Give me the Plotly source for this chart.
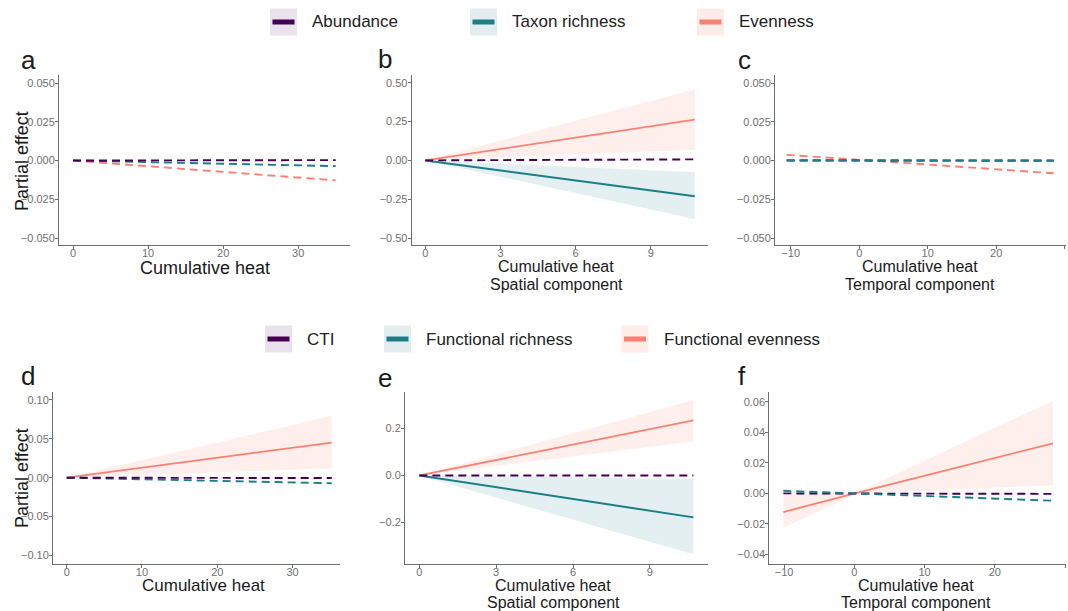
import plotly.graph_objects as go

# ---------------- data ----------------
# Top row: Abundance / Taxon richness / Evenness
a_x = [0, 35]
a_abund = [0.0, 0.0003]
a_taxon = [0.0, -0.0036]
a_even = [0.0, -0.0128]

b_x = [0, 10.75]
b_abund = [0.0, 0.0065]
b_taxon = [0.0, -0.231]
b_taxon_lo = [0.0, -0.377]
b_taxon_hi = [0.0, -0.076]
b_even = [0.0, 0.263]
b_even_lo = [0.0, 0.069]
b_even_hi = [0.0, 0.457]

c_x = [-10.6, 28.4]
c_abund = [0.0, 0.0]
c_taxon = [0.0002, -0.0002]
c_even = [0.0037, -0.0082]

# Bottom row: CTI / Functional richness / Functional evenness
d_x = [0, 35.2]
d_cti = [0.0, -0.0005]
d_fric = [0.0, -0.0072]
d_feve = [0.0, 0.045]
d_feve_lo = [0.0, 0.012]
d_feve_hi = [0.0, 0.0795]

e_x = [0, 10.7]
e_cti = [0.0, 0.0]
e_fric = [0.0, -0.178]
e_fric_lo = [0.0, -0.335]
e_fric_hi = [0.0, -0.015]
e_feve = [0.0, 0.234]
e_feve_lo = [0.0, 0.144]
e_feve_hi = [0.0, 0.32]

f_x = [-10.1, 0.5, 28.3]
f_cti = [0.0, 0.0, -0.0003]
f_fric = [0.0017, 0.0, -0.0048]
f_feve = [-0.0122, 0.0005, 0.0328]
f_feve_lo = [-0.0225, 0.0, 0.0054]
f_feve_hi = [-0.001, 0.001, 0.0607]

legend1 = ["Abundance", "Taxon richness", "Evenness"]
legend2 = ["CTI", "Functional richness", "Functional evenness"]
panel_letters = ["a", "b", "c", "d", "e", "f"]

# ---------------- styles ----------------
PURPLE = "#440154"
TEAL = "#1A7F86"
SALMON = "#FA8072"
PURPLE_BG = "#EAE2EC"
TEAL_FILL = "rgba(26,127,134,0.12)"
TEAL_BG = "#E3EDEF"
SALMON_FILL = "rgba(250,128,114,0.13)"
SALMON_BG = "#FEECE9"
DASH = "8px,5px"
FONT = "Liberation Sans, Arial, sans-serif"
W, H = 1068, 611


def px(x):
    return x / W


def py(y):
    return 1 - y / H


fig = go.Figure()


def line(x, y, color, ax, dashed, width=None):
    fig.add_trace(go.Scatter(
        x=x, y=y, mode="lines", xaxis="x" + ax, yaxis="y" + ax,
        line=dict(color=color, width=width or (1.9 if dashed else 1.8),
                  dash=DASH if dashed else "solid"),
        showlegend=False, hoverinfo="skip"))


def ribbon(x, lo, hi, fill, ax):
    fig.add_trace(go.Scatter(x=x, y=lo, mode="lines", xaxis="x" + ax, yaxis="y" + ax,
                             line=dict(width=0, color=fill), showlegend=False, hoverinfo="skip"))
    fig.add_trace(go.Scatter(x=x, y=hi, mode="lines", xaxis="x" + ax, yaxis="y" + ax,
                             line=dict(width=0, color=fill), fill="tonexty", fillcolor=fill,
                             showlegend=False, hoverinfo="skip"))


# panel a
line(a_x, a_even, SALMON, "", True)
line(a_x, a_taxon, TEAL, "", True)
line(a_x, a_abund, PURPLE, "", True)
# panel b
ribbon(b_x, b_even_lo, b_even_hi, SALMON_FILL, "2")
ribbon(b_x, b_taxon_lo, b_taxon_hi, TEAL_FILL, "2")
line(b_x, b_even, SALMON, "2", False)
line(b_x, b_taxon, TEAL, "2", False, 2)
line(b_x, b_abund, PURPLE, "2", True)
# panel c
line(c_x, c_even, SALMON, "3", True)
line(c_x, c_abund, PURPLE, "3", True)
line(c_x, c_taxon, TEAL, "3", True)
# panel d
ribbon(d_x, d_feve_lo, d_feve_hi, SALMON_FILL, "4")
line(d_x, d_feve, SALMON, "4", False)
line(d_x, d_fric, TEAL, "4", True)
line(d_x, d_cti, PURPLE, "4", True)
# panel e
ribbon(e_x, e_feve_lo, e_feve_hi, SALMON_FILL, "5")
ribbon(e_x, e_fric_lo, e_fric_hi, TEAL_FILL, "5")
line(e_x, e_feve, SALMON, "5", False)
line(e_x, e_fric, TEAL, "5", False, 2)
line(e_x, e_cti, PURPLE, "5", True)
# panel f
ribbon(f_x, f_feve_lo, f_feve_hi, SALMON_FILL, "6")
line(f_x, f_feve, SALMON, "6", False)
line(f_x, f_cti, PURPLE, "6", True)
line(f_x, f_fric, TEAL, "6", True)

# ---------------- axes ----------------
AXCOL = "#6e6e6e"
TICKFONT = dict(family=FONT, size=11, color="#707070")


def xax(dom, rng, tickvals, anchor):
    return dict(domain=[px(dom[0]), px(dom[1])], range=rng, tickvals=tickvals,
                showline=True, linecolor=AXCOL, linewidth=1, ticks="outside",
                ticklen=3, tickcolor=AXCOL, showgrid=False, zeroline=False,
                tickfont=TICKFONT, anchor=anchor, fixedrange=True,
                ticklabelstandoff=-5)


def yax(dom, rng, tickvals, fmt, anchor):
    return dict(domain=[py(dom[1]), py(dom[0])], range=rng, tickvals=tickvals,
                tickformat=fmt, showline=True, linecolor=AXCOL, linewidth=1,
                ticks="outside", ticklen=3, tickcolor=AXCOL, showgrid=False,
                zeroline=False, tickfont=TICKFONT, anchor=anchor, fixedrange=True,
                ticklabelstandoff=-2)


TOP = (75, 245)
BOT = (391.7, 563.5)
layout_axes = dict(
    xaxis=xax((59, 350), [-1.87, 36.9], [0, 10, 20, 30], "y"),
    yaxis=yax(TOP, [-0.0545, 0.0552], [-0.05, -0.025, 0, 0.025, 0.05], ".3f", "x"),
    xaxis2=xax((411.7, 708), [-0.54, 11.28], [0, 3, 6, 9], "y2"),
    yaxis2=yax(TOP, [-0.545, 0.55], [-0.5, -0.25, 0, 0.25, 0.5], ".2f", "x2"),
    xaxis3=xax((775, 1066), [-12.3, 30.2], [-10, 0, 10, 20, 30], "y3"),
    yaxis3=yax(TOP, [-0.0545, 0.0552], [-0.05, -0.025, 0, 0.025, 0.05], ".3f", "x3"),
    xaxis4=xax((53, 340), [-1.82, 36.3], [0, 10, 20, 30], "y4"),
    yaxis4=yax(BOT, [-0.1103, 0.1105], [-0.1, -0.05, 0, 0.05, 0.1], ".2f", "x4"),
    xaxis5=xax((405, 708), [-0.56, 11.27], [0, 3, 6, 9], "y5"),
    yaxis5=yax(BOT, [-0.374, 0.356], [-0.2, 0, 0.2], ".1f", "x5"),
    xaxis6=xax((769.3, 1066), [-12.1, 30.14], [-10, 0, 10, 20, 30], "y6"),
    yaxis6=yax(BOT, [-0.0459, 0.0666], [-0.04, -0.02, 0, 0.02, 0.04, 0.06], ".2f", "x6"),
)

annotations = []
shapes = []


def text(x, y, s, size, color="#1a1a1a", xanchor="center", angle=0):
    annotations.append(dict(x=px(x), y=py(y), xref="paper", yref="paper", text=s,
                            showarrow=False, xanchor=xanchor, yanchor="middle",
                            textangle=angle,
                            font=dict(family=FONT, size=size, color=color)))


# panel letters
for letter, (lx, ly) in zip(panel_letters, [(19, 60), (376, 59), (736, 60),
                                            (19, 376), (376, 378), (736, 376)]):
    text(lx, ly, letter, 26, xanchor="left")

# axis titles
text(205, 268, "Cumulative heat", 18)
text(556, 266, "Cumulative heat", 16)
text(556, 285, "Spatial component", 16)
text(920, 266, "Cumulative heat", 16)
text(920, 285, "Temporal component", 16)
text(203, 585, "Cumulative heat", 17)
text(553, 585, "Cumulative heat", 16)
text(553, 602, "Spatial component", 16)
text(916, 585, "Cumulative heat", 16)
text(916, 602, "Temporal component", 16)
text(22, 161, "Partial effect", 18, angle=-90)
text(22, 478, "Partial effect", 18, angle=-90)


# manual legends
def legend_item(x0, yc, label, color, bg):
    shapes.append(dict(type="rect", xref="paper", yref="paper",
                       x0=px(x0), x1=px(x0 + 27), y0=py(yc + 13.5), y1=py(yc - 13.5),
                       fillcolor=bg, line=dict(width=0), layer="below"))
    shapes.append(dict(type="line", xref="paper", yref="paper",
                       x0=px(x0 + 2.5), x1=px(x0 + 24.5), y0=py(yc), y1=py(yc),
                       line=dict(color=color, width=5)))
    text(x0 + 40, yc, label, 17, color="#222222", xanchor="left")


for (x0, lbl, col, bg) in zip([270, 470, 697], legend1,
                              [PURPLE, TEAL, SALMON], [PURPLE_BG, TEAL_BG, SALMON_BG]):
    legend_item(x0, 22, lbl, col, bg)
for (x0, lbl, col, bg) in zip([265, 384, 621.5], legend2,
                              [PURPLE, TEAL, SALMON], [PURPLE_BG, TEAL_BG, SALMON_BG]):
    legend_item(x0, 339, lbl, col, bg)

fig.update_layout(
    width=W, height=H, margin=dict(l=0, r=0, t=0, b=0),
    paper_bgcolor="white", plot_bgcolor="white",
    annotations=annotations, shapes=shapes, showlegend=False,
    **layout_axes)

fig.write_html("out.html", config={"displayModeBar": False})
